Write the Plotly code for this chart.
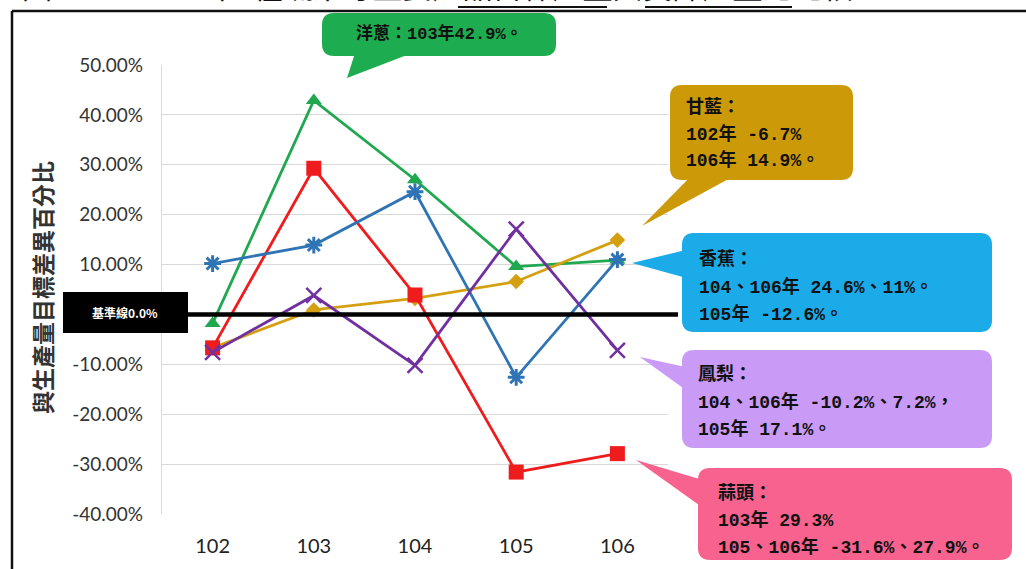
import plotly.graph_objects as go

# ---------------- data ----------------
years = ["102", "103", "104", "105", "106"]
onion = [-1.8, 42.9, 27.0, 9.6, 10.9]        # 洋蔥
cabbage = [-6.7, 0.9, 3.2, 6.6, 14.9]        # 甘藍
garlic = [-6.7, 29.3, 3.9, -31.6, -27.9]     # 蒜頭
banana = [10.2, 13.9, 24.6, -12.6, 11.0]     # 香蕉
pineapple = [-7.6, 3.8, -10.2, 17.1, -7.2]   # 鳳梨
y_ticks = [50, 40, 30, 20, 10, 0, -10, -20, -30, -40]
y_tick_text = ["50.00%", "40.00%", "30.00%", "20.00%", "10.00%", "",
               "-10.00%", "-20.00%", "-30.00%", "-40.00%"]

# ---------------- geometry helpers ----------------
W, H = 1026, 569
L, R, T, B = 162, 668, 65, 514


def px(x):
    return (x - L) / (R - L)


def py(y):
    return (B - y) / (B - T)


def rounded_rect(x0, y0, x1, y1, r):
    rx = r / (R - L)
    ry = r / (B - T)
    X0, X1, Y0, Y1 = px(x0), px(x1), py(y0), py(y1)  # Y0 top, Y1 bottom (paper)
    return (f"M {X0+rx},{Y0} L {X1-rx},{Y0} Q {X1},{Y0} {X1},{Y0-ry} "
            f"L {X1},{Y1+ry} Q {X1},{Y1} {X1-rx},{Y1} L {X0+rx},{Y1} "
            f"Q {X0},{Y1} {X0},{Y1+ry} L {X0},{Y0-ry} Q {X0},{Y0} {X0+rx},{Y0} Z")


def tri(p1, p2, p3):
    return (f"M {px(p1[0])},{py(p1[1])} L {px(p2[0])},{py(p2[1])} "
            f"L {px(p3[0])},{py(p3[1])} Z")


fig = go.Figure()

series = [
    ("洋蔥", onion, "#1fa84f", "triangle-up", 14, 0),
    ("甘藍", cabbage, "#d4a012", "diamond", 12, 0),
    ("蒜頭", garlic, "#ee1c1c", "square", 15, 0),
    ("香蕉", banana, "#2f74b5", "asterisk-open", 14, 3),
    ("鳳梨", pineapple, "#7030a0", "x-thin-open", 15, 2.5),
]
for name, vals, col, sym, sz, lw in series:
    mk = dict(symbol=sym, size=sz, color=col)
    if lw:
        mk["line"] = dict(color=col, width=lw)
    fig.add_trace(go.Scatter(x=years, y=vals, name=name, mode="lines+markers",
                             line=dict(color=col, width=2.8), marker=mk))

shapes = []
annotations = []

# frame lines of the page
shapes.append(dict(type="line", xref="paper", yref="paper", x0=px(12), x1=px(1030),
                   y0=py(11), y1=py(11), line=dict(color="#111", width=2.5), layer="above"))
shapes.append(dict(type="line", xref="paper", yref="paper", x0=px(12), x1=px(12),
                   y0=py(11), y1=py(575), line=dict(color="#111", width=2.5), layer="above"))
# title underlines
for a, b in [(458, 607), (645, 792)]:
    shapes.append(dict(type="line", xref="paper", yref="paper", x0=px(a), x1=px(b),
                       y0=py(7), y1=py(7), line=dict(color="#111", width=2)))

# zero baseline
shapes.append(dict(type="line", xref="paper", yref="y", x0=0, x1=px(678), y0=0, y1=0,
                   line=dict(color="black", width=4.5), layer="above"))
# baseline label box
shapes.append(dict(type="rect", xref="paper", yref="paper", x0=px(63), x1=px(188),
                   y0=py(333), y1=py(292), fillcolor="black", line=dict(width=0),
                   layer="above"))

# callouts: (color, box, tail triangle)
callouts = [
    ("#1dac4f", (322, 13, 556, 56), ((356, 50), (420, 50), (347, 78))),
    ("#cc9a08", (670, 85, 853, 180), ((697, 170), (745, 170), (642, 226))),
    ("#1aabe8", (682, 233, 992, 332), ((690, 249), (690, 279), (632, 263))),
    ("#c99bf6", (682, 350, 992, 448), ((690, 368), (690, 393), (640, 357))),
    ("#f7628e", (698, 468, 1012, 560), ((706, 481), (706, 510), (636, 460))),
]
for col, (x0, y0, x1, y1), (p1, p2, p3) in callouts:
    shapes.append(dict(type="path", xref="paper", yref="paper",
                       path=rounded_rect(x0, y0, x1, y1, 12), fillcolor=col,
                       line=dict(width=0), layer="above"))
    shapes.append(dict(type="path", xref="paper", yref="paper",
                       path=tri(p1, p2, p3), fillcolor=col,
                       line=dict(width=0), layer="above"))

TXT_FONT = "Liberation Mono, Noto Sans CJK TC, monospace"


def add_text(x, y, text, size=18, color="#111", anchor="left", font=TXT_FONT, angle=0):
    annotations.append(dict(xref="paper", yref="paper", x=px(x), y=py(y), text=text,
                            showarrow=False, xanchor=anchor, yanchor="middle",
                            textangle=angle,
                            font=dict(family=font, size=size, color=color)))


# partially visible page title (clipped by the top edge)
annotations.append(dict(xref="paper", yref="paper", x=px(20), y=py(9), xanchor="left",
                        yanchor="bottom", showarrow=False,
                        text="圖 1  102-106 年5種蔬果等主要產品目標產量與實際產量之比較",
                        font=dict(family="Noto Sans CJK TC", size=30, color="#111")))

add_text(125, 312, "<b>基準線0.0%</b>", size=12, color="white", anchor="center",
         font="Noto Sans CJK TC")
add_text(439, 34, "<b>洋蔥：103年42.9%。</b>", size=17, anchor="center")

add_text(684, 108, "<b>甘藍：</b>", size=18)
add_text(684, 134, "<b>102年 -6.7%</b>", size=18)
add_text(684, 160, "<b>106年 14.9%。</b>", size=18)

add_text(697, 259, "<b>香蕉：</b>", size=18)
add_text(697, 287, "<b>104、106年 24.6%、11%。</b>", size=18)
add_text(697, 314, "<b>105年 -12.6%。</b>", size=18)

add_text(696, 374, "<b>鳳梨：</b>", size=18)
add_text(696, 402, "<b>104、106年 -10.2%、7.2%，</b>", size=18)
add_text(696, 429, "<b>105年 17.1%。</b>", size=18)

add_text(716, 493, "<b>蒜頭：</b>", size=18)
add_text(716, 520, "<b>103年 29.3%</b>", size=18)
add_text(716, 547, "<b>105、106年 -31.6%、27.9%。</b>", size=18)

# y axis title
add_text(42, 288, "<b>與生產量目標差異百分比</b>", size=23, anchor="center",
         font="Noto Sans CJK TC", angle=-90, color="#333")

fig.update_layout(
    width=W, height=H,
    margin=dict(l=L, r=W - R, t=T, b=H - B, autoexpand=False),
    paper_bgcolor="white", plot_bgcolor="white",
    showlegend=False,
    shapes=shapes, annotations=annotations,
    xaxis=dict(type="category", range=[-0.5, 4.5], showgrid=False, zeroline=False,
               showline=False, ticks="outside", ticklen=14, tickcolor="rgba(0,0,0,0)",
               tickfont=dict(family="Lato, Liberation Sans", size=20, color="#222")),
    yaxis=dict(range=[-40, 50], tickvals=y_ticks, ticktext=y_tick_text,
               showgrid=True, gridcolor="#d9d9d9", gridwidth=1.2, zeroline=False,
               showline=True, linecolor="#d9d9d9", linewidth=1.2,
               ticks="outside", ticklen=14, tickcolor="rgba(0,0,0,0)",
               tickfont=dict(family="Lato, Liberation Sans", size=19, color="#333")),
)

fig.write_html("out.html", config={"displayModeBar": False},
               post_script="document.body.style.margin='0';document.body.style.overflow='hidden';")
